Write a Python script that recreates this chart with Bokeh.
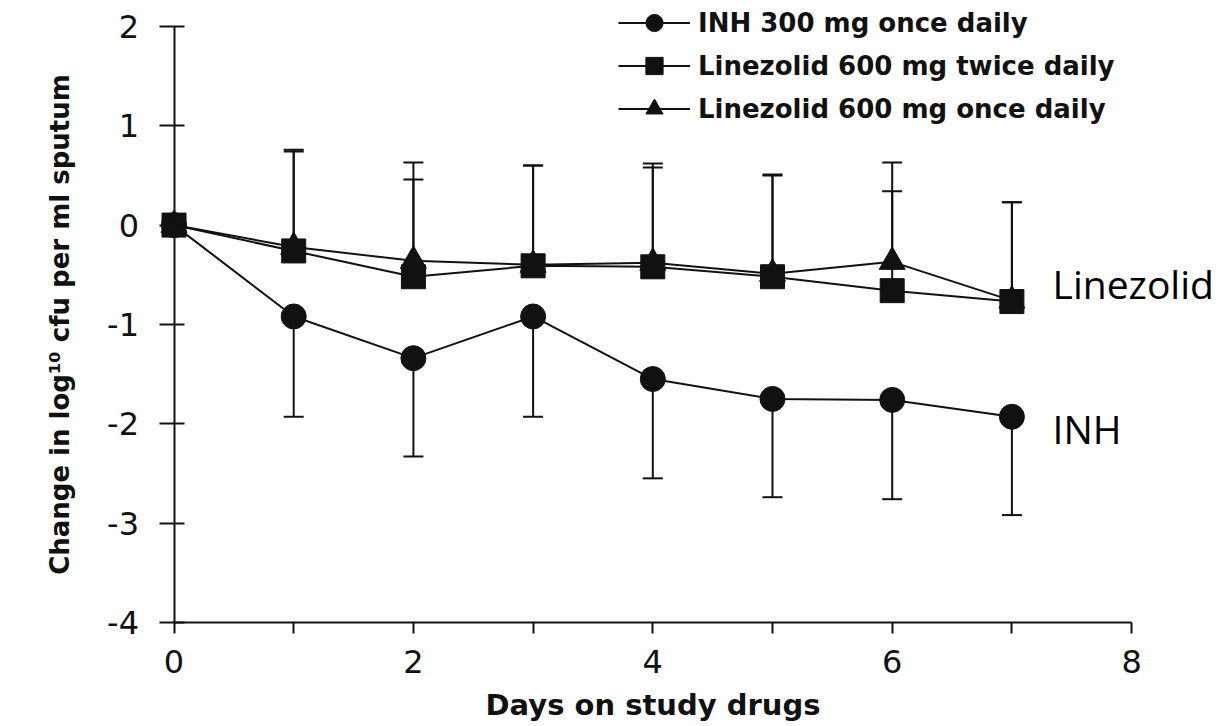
from bokeh.plotting import figure
from bokeh.models import (Range1d, FixedTicker, Whisker, TeeHead, ColumnDataSource,
                          Legend, LegendItem, Label)
from bokeh.embed import file_html
from bokeh.resources import INLINE

# ---- data ----
days = [0, 1, 2, 3, 4, 5, 6, 7]
inh = [0, -0.92, -1.34, -0.92, -1.55, -1.75, -1.76, -1.93]
lz_twice = [0, -0.26, -0.52, -0.41, -0.42, -0.52, -0.66, -0.77]
lz_once = [0, -0.22, -0.36, -0.40, -0.38, -0.49, -0.37, -0.76]

err_days = [1, 2, 3, 4, 5, 6, 7]
inh_lower = [-1.93, -2.33, -1.93, -2.55, -2.74, -2.76, -2.92]
lz_twice_upper = [0.76, 0.46, 0.60, 0.58, 0.50, 0.34, 0.23]
lz_once_upper = [0.74, 0.63, 0.60, 0.62, 0.51, 0.63, 0.23]

x_ticks = [0, 1, 2, 3, 4, 5, 6, 7, 8]
x_tick_labels = ["0", "", "2", "", "4", "", "6", "", "8"]
y_ticks = [-4, -3, -2, -1, 0, 1, 2]
y_tick_labels = ["-4", "-3", "-2", "-1", "0", "1", "2"]
legend_labels = ["INH 300 mg once daily", "Linezolid 600 mg twice daily",
                 "Linezolid 600 mg once daily"]
x_label = "Days on study drugs"
y_label = "Change in log\u00b9\u2070 cfu per ml sputum"
annotations = ["Linezolid", "INH"]

INK = "#111111"
W, H = 1220, 726

p = figure(width=W, height=H, output_backend="svg", toolbar_location=None,
           x_range=Range1d(-1.4495, 8.7427), y_range=Range1d(-5.049, 2.2618),
           min_border_left=0, min_border_right=0, min_border_top=0,
           min_border_bottom=0)
p.outline_line_color = None
p.xgrid.visible = False
p.ygrid.visible = False
p.background_fill_color = "white"

# axes (fixed at the data origin, drawn by Bokeh)
xa = p.xaxis[0]
ya = p.yaxis[0]
ya.fixed_location = 0
xa.fixed_location = -4
xa.bounds = (0, 8)
ya.bounds = (-4, 2)
xa.ticker = FixedTicker(ticks=x_ticks)
ya.ticker = FixedTicker(ticks=y_ticks)
xa.major_label_overrides = dict(zip(x_ticks, x_tick_labels))
ya.major_label_overrides = dict(zip(y_ticks, y_tick_labels))
for ax in (xa, ya):
    ax.axis_line_width = 2
    ax.axis_line_color = INK
    ax.major_tick_line_width = 2
    ax.major_tick_line_color = INK
    ax.minor_tick_line_color = None
    ax.major_label_text_font = "DejaVu Sans"
    ax.major_label_text_font_size = "32px"
    ax.major_label_text_color = INK
    ax.axis_label_text_font = "DejaVu Sans"
    ax.axis_label_text_font_style = "bold"
    ax.axis_label_text_color = INK
xa.major_tick_in = 0
xa.major_tick_out = 11
xa.major_label_standoff = 17
xa.axis_label = x_label
xa.axis_label_text_font_size = "29px"
xa.axis_label_standoff = 11
ya.major_tick_in = 10
ya.major_tick_out = 15
ya.major_label_standoff = 20
ya.axis_label = y_label
ya.axis_label_text_font_size = "26px"
ya.axis_label_standoff = 30

# error bars
inh_err = ColumnDataSource(dict(x=err_days, top=[inh[d] for d in err_days], bot=inh_lower))
tw_err = ColumnDataSource(dict(x=err_days, top=lz_twice_upper, bot=[lz_twice[d] for d in err_days]))
on_err = ColumnDataSource(dict(x=err_days, top=lz_once_upper, bot=[lz_once[d] for d in err_days]))

p.add_layout(Whisker(source=inh_err, base="x", upper="top", lower="bot", dimension="height",
                     line_width=2, line_color=INK, upper_head=None,
                     lower_head=TeeHead(size=20, line_width=2, line_color=INK)))
for src in (on_err, tw_err):
    p.add_layout(Whisker(source=src, base="x", upper="top", lower="bot", dimension="height",
                         line_width=2, line_color=INK, lower_head=None,
                         upper_head=TeeHead(size=20, line_width=2, line_color=INK)))

# series
l_inh = p.line(days, inh, line_width=2, line_color=INK)
l_tw = p.line(days, lz_twice, line_width=2, line_color=INK)
l_on = p.line(days, lz_once, line_width=2, line_color=INK)
m_inh = p.scatter(days, inh, marker="circle", size=25, fill_color=INK, line_color=INK)
m_on = p.scatter(days, lz_once, marker="triangle", size=26, fill_color=INK, line_color=INK)
m_tw = p.scatter(days, lz_twice, marker="square", size=24, fill_color=INK, line_color=INK)

legend = Legend(items=[LegendItem(label=legend_labels[0], renderers=[l_inh, m_inh]),
                       LegendItem(label=legend_labels[1], renderers=[l_tw, m_tw]),
                       LegendItem(label=legend_labels[2], renderers=[l_on, m_on])],
                location=(618, H - 130), orientation="vertical",
                glyph_width=72, glyph_height=43, label_height=43, spacing=0,
                label_standoff=8, padding=0, margin=0,
                border_line_color=None, background_fill_alpha=0,
                label_text_font="DejaVu Sans", label_text_font_style="bold",
                label_text_font_size="26px", label_text_color=INK)
p.add_layout(legend, "center")

# annotations
p.add_layout(Label(x=7.34, y=-0.59, text=annotations[0], text_font="Open Sans",
                   text_font_size="39px", text_color="black", text_baseline="alphabetic"))
p.add_layout(Label(x=7.34, y=-2.05, text=annotations[1], text_font="Open Sans",
                   text_font_size="39px", text_color="black", text_baseline="alphabetic"))

open("out.html", "w").write(file_html(p, INLINE))
